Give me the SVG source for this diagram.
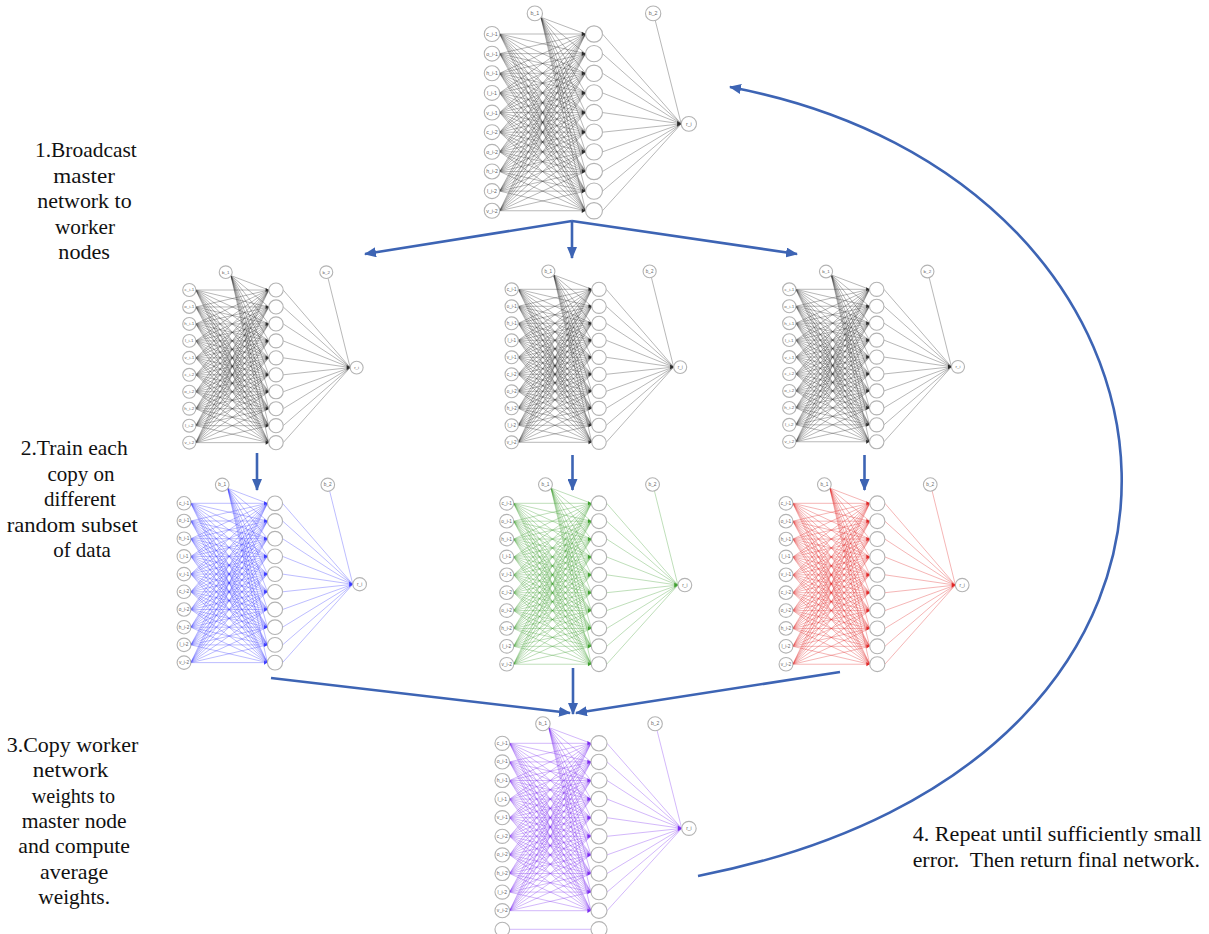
<svg xmlns="http://www.w3.org/2000/svg" xmlns:xlink="http://www.w3.org/1999/xlink" width="1209" height="934" viewBox="0 0 1209 934">
<style>
  .w path { fill: none; stroke: currentColor; stroke-opacity: .42; stroke-width: .8; vector-effect: non-scaling-stroke; }
  .hd polygon { fill: currentColor; }
  .nd circle { fill: #fff; stroke: #b3b3b3; stroke-width: 1.1; vector-effect: non-scaling-stroke; }
  .nd text { font-family: "Liberation Sans", Arial, sans-serif; font-size: 5.2px; fill: #666; text-anchor: middle; dominant-baseline: central; }
  .cap { font-family: "Liberation Serif", "Times New Roman", serif; font-size: 21px; fill: #111; }
  .mid { text-anchor: middle; }
  .link { fill: none; stroke: #3d64b4; stroke-width: 2.6; }
</style>
<defs>
  <marker id="ah" viewBox="0 0 12 10" refX="11" refY="5" markerWidth="12" markerHeight="10" markerUnits="userSpaceOnUse" orient="auto">
    <path d="M0 0L12 5L0 10z" fill="#3d64b4"/>
  </marker>

  <!-- neural network template: inputs at x=0, hidden layer at x=100, rows 20 apart -->
  <g id="wires" class="w">
    <path d="M7.5 0L91.7 0"/><path d="M7.5 0L91.7 20"/><path d="M7.5 0L91.7 40"/><path d="M7.5 0L91.7 60"/><path d="M7.5 0L91.7 80"/><path d="M7.5 0L91.7 100"/><path d="M7.5 0L91.7 120"/><path d="M7.5 0L91.7 140"/><path d="M7.5 0L91.7 160"/><path d="M7.5 0L91.7 180"/>
    <path d="M7.5 20L91.7 0"/><path d="M7.5 20L91.7 20"/><path d="M7.5 20L91.7 40"/><path d="M7.5 20L91.7 60"/><path d="M7.5 20L91.7 80"/><path d="M7.5 20L91.7 100"/><path d="M7.5 20L91.7 120"/><path d="M7.5 20L91.7 140"/><path d="M7.5 20L91.7 160"/><path d="M7.5 20L91.7 180"/>
    <path d="M7.5 40L91.7 0"/><path d="M7.5 40L91.7 20"/><path d="M7.5 40L91.7 40"/><path d="M7.5 40L91.7 60"/><path d="M7.5 40L91.7 80"/><path d="M7.5 40L91.7 100"/><path d="M7.5 40L91.7 120"/><path d="M7.5 40L91.7 140"/><path d="M7.5 40L91.7 160"/><path d="M7.5 40L91.7 180"/>
    <path d="M7.5 60L91.7 0"/><path d="M7.5 60L91.7 20"/><path d="M7.5 60L91.7 40"/><path d="M7.5 60L91.7 60"/><path d="M7.5 60L91.7 80"/><path d="M7.5 60L91.7 100"/><path d="M7.5 60L91.7 120"/><path d="M7.5 60L91.7 140"/><path d="M7.5 60L91.7 160"/><path d="M7.5 60L91.7 180"/>
    <path d="M7.5 80L91.7 0"/><path d="M7.5 80L91.7 20"/><path d="M7.5 80L91.7 40"/><path d="M7.5 80L91.7 60"/><path d="M7.5 80L91.7 80"/><path d="M7.5 80L91.7 100"/><path d="M7.5 80L91.7 120"/><path d="M7.5 80L91.7 140"/><path d="M7.5 80L91.7 160"/><path d="M7.5 80L91.7 180"/>
    <path d="M7.5 100L91.7 0"/><path d="M7.5 100L91.7 20"/><path d="M7.5 100L91.7 40"/><path d="M7.5 100L91.7 60"/><path d="M7.5 100L91.7 80"/><path d="M7.5 100L91.7 100"/><path d="M7.5 100L91.7 120"/><path d="M7.5 100L91.7 140"/><path d="M7.5 100L91.7 160"/><path d="M7.5 100L91.7 180"/>
    <path d="M7.5 120L91.7 0"/><path d="M7.5 120L91.7 20"/><path d="M7.5 120L91.7 40"/><path d="M7.5 120L91.7 60"/><path d="M7.5 120L91.7 80"/><path d="M7.5 120L91.7 100"/><path d="M7.5 120L91.7 120"/><path d="M7.5 120L91.7 140"/><path d="M7.5 120L91.7 160"/><path d="M7.5 120L91.7 180"/>
    <path d="M7.5 140L91.7 0"/><path d="M7.5 140L91.7 20"/><path d="M7.5 140L91.7 40"/><path d="M7.5 140L91.7 60"/><path d="M7.5 140L91.7 80"/><path d="M7.5 140L91.7 100"/><path d="M7.5 140L91.7 120"/><path d="M7.5 140L91.7 140"/><path d="M7.5 140L91.7 160"/><path d="M7.5 140L91.7 180"/>
    <path d="M7.5 160L91.7 0"/><path d="M7.5 160L91.7 20"/><path d="M7.5 160L91.7 40"/><path d="M7.5 160L91.7 60"/><path d="M7.5 160L91.7 80"/><path d="M7.5 160L91.7 100"/><path d="M7.5 160L91.7 120"/><path d="M7.5 160L91.7 140"/><path d="M7.5 160L91.7 160"/><path d="M7.5 160L91.7 180"/>
    <path d="M7.5 180L91.7 0"/><path d="M7.5 180L91.7 20"/><path d="M7.5 180L91.7 40"/><path d="M7.5 180L91.7 60"/><path d="M7.5 180L91.7 80"/><path d="M7.5 180L91.7 100"/><path d="M7.5 180L91.7 120"/><path d="M7.5 180L91.7 140"/><path d="M7.5 180L91.7 160"/><path d="M7.5 180L91.7 180"/>
    <!-- bias b_1 to hidden layer -->
    <path d="M48 -17L91.7 0"/><path d="M48 -17L91.7 20"/><path d="M48 -17L91.7 40"/><path d="M48 -17L91.7 60"/><path d="M48 -17L91.7 80"/><path d="M48 -17L91.7 100"/><path d="M48 -17L91.7 120"/><path d="M48 -17L91.7 140"/><path d="M48 -17L91.7 160"/><path d="M48 -17L91.7 180"/>
    <!-- hidden layer to output -->
    <path d="M108.3 0L185.5 91.5"/><path d="M108.3 20L185.5 91.5"/><path d="M108.3 40L185.5 91.5"/><path d="M108.3 60L185.5 91.5"/><path d="M108.3 80L185.5 91.5"/><path d="M108.3 100L185.5 91.5"/><path d="M108.3 120L185.5 91.5"/><path d="M108.3 140L185.5 91.5"/><path d="M108.3 160L185.5 91.5"/><path d="M108.3 180L185.5 91.5"/>
    <!-- bias b_2 to output -->
    <path d="M160 -14L185.5 91.5"/>
  </g>

  <g id="heads" class="hd">
    <polygon points="88,-2.4 91.7,0 88,2.4"/>
    <polygon points="88,17.6 91.7,20 88,22.4"/>
    <polygon points="88,37.6 91.7,40 88,42.4"/>
    <polygon points="88,57.6 91.7,60 88,62.4"/>
    <polygon points="88,77.6 91.7,80 88,82.4"/>
    <polygon points="88,97.6 91.7,100 88,102.4"/>
    <polygon points="88,117.6 91.7,120 88,122.4"/>
    <polygon points="88,137.6 91.7,140 88,142.4"/>
    <polygon points="88,157.6 91.7,160 88,162.4"/>
    <polygon points="88,177.6 91.7,180 88,182.4"/>
    <polygon points="181.5,88.5 185.5,91.5 181.5,94.5"/>
  </g>

  <g id="nodes" class="nd">
    <g><circle cx="0" cy="0" r="7.6"/><text x="0" y="0">c_i-1</text></g>
    <g><circle cx="0" cy="20" r="7.6"/><text x="0" y="20">o_i-1</text></g>
    <g><circle cx="0" cy="40" r="7.6"/><text x="0" y="40">h_i-1</text></g>
    <g><circle cx="0" cy="60" r="7.6"/><text x="0" y="60">l_i-1</text></g>
    <g><circle cx="0" cy="80" r="7.6"/><text x="0" y="80">v_i-1</text></g>
    <g><circle cx="0" cy="100" r="7.6"/><text x="0" y="100">c_i-2</text></g>
    <g><circle cx="0" cy="120" r="7.6"/><text x="0" y="120">o_i-2</text></g>
    <g><circle cx="0" cy="140" r="7.6"/><text x="0" y="140">h_i-2</text></g>
    <g><circle cx="0" cy="160" r="7.6"/><text x="0" y="160">l_i-2</text></g>
    <g><circle cx="0" cy="180" r="7.6"/><text x="0" y="180">v_i-2</text></g>
    <g><circle cx="42" cy="-21" r="7.5"/><text x="42" y="-21">b_1</text></g>
    <circle cx="100" cy="0" r="8.3"/><circle cx="100" cy="20" r="8.3"/><circle cx="100" cy="40" r="8.3"/><circle cx="100" cy="60" r="8.3"/><circle cx="100" cy="80" r="8.3"/>
    <circle cx="100" cy="100" r="8.3"/><circle cx="100" cy="120" r="8.3"/><circle cx="100" cy="140" r="8.3"/><circle cx="100" cy="160" r="8.3"/><circle cx="100" cy="180" r="8.3"/>
    <g><circle cx="158" cy="-21" r="7.5"/><text x="158" y="-21">b_2</text></g>
    <g><circle cx="193" cy="91.5" r="7.5"/><text x="193" y="91.5">r_i</text></g>
  </g>
</defs>

<rect width="1209" height="934" fill="#fff"/>

<!-- master network -->
<g id="net-master" transform="translate(492 34) scale(1.02 .982)" style="color:#2a2a2a">
  <use href="#wires"/><use href="#heads"/><use href="#nodes"/>
</g>

<!-- worker copies -->
<g id="net-worker-1" transform="translate(189.3 290) scale(.867 .848)" style="color:#2a2a2a">
  <use href="#wires"/><use href="#heads"/><use href="#nodes"/>
</g>
<g id="net-worker-2" transform="translate(511.7 289.3) scale(.873 .85)" style="color:#2a2a2a">
  <use href="#wires"/><use href="#heads"/><use href="#nodes"/>
</g>
<g id="net-worker-3" transform="translate(789.3 289.3) scale(.874 .847)" style="color:#2a2a2a">
  <use href="#wires"/><use href="#heads"/><use href="#nodes"/>
</g>

<!-- trained worker networks -->
<g id="net-trained-blue" transform="translate(184 503.3) scale(.91 .885)" style="color:#3a3aff">
  <use href="#wires"/><use href="#heads"/><use href="#nodes"/>
</g>
<g id="net-trained-green" transform="translate(506.7 503.3) scale(.923 .894)" style="color:#3f9f2f">
  <use href="#wires"/><use href="#heads"/><use href="#nodes"/>
</g>
<g id="net-trained-red" transform="translate(786 503.3) scale(.913 .894)" style="color:#e02525">
  <use href="#wires"/><use href="#heads"/><use href="#nodes"/>
</g>

<!-- averaged master network -->
<g id="net-average" transform="translate(502.3 743.3) scale(.967 .93)" style="color:#7a2af0">
  <use href="#wires"/><use href="#heads"/><use href="#nodes"/>
  <path d="M7.5 200L91.7 200" fill="none" stroke="#7a2af0" stroke-opacity=".42" stroke-width=".8" vector-effect="non-scaling-stroke"/>
  <g class="nd"><circle cx="0" cy="200" r="7.6"/><circle cx="100" cy="200" r="8.3"/></g>
</g>

<!-- flow arrows -->
<g id="connectors">
  <path class="link" d="M572 221L365 254" marker-end="url(#ah)"/>
  <path class="link" d="M572 221V258" marker-end="url(#ah)"/>
  <path class="link" d="M572 221L797 254" marker-end="url(#ah)"/>
  <path class="link" d="M257 453V490" marker-end="url(#ah)"/>
  <path class="link" d="M572.5 455V490" marker-end="url(#ah)"/>
  <path class="link" d="M864.5 455V490" marker-end="url(#ah)"/>
  <path class="link" d="M271 678L570 713" marker-end="url(#ah)"/>
  <path class="link" d="M573 668V714" marker-end="url(#ah)"/>
  <path class="link" d="M840 672L576 713" marker-end="url(#ah)"/>
  <path class="link" d="M698 876C1290 760 1225 180 730 87" marker-end="url(#ah)"/>
</g>

<!-- step captions -->
<g id="caption-1" class="cap">
  <text x="35" y="157" textLength="101.7" lengthAdjust="spacingAndGlyphs">1.Broadcast</text>
  <text x="53.3" y="182.5" textLength="61.7" lengthAdjust="spacingAndGlyphs">master</text>
  <text x="37.3" y="208" textLength="94.3" lengthAdjust="spacingAndGlyphs">network to</text>
  <text x="55" y="233.5" textLength="60" lengthAdjust="spacingAndGlyphs">worker</text>
  <text x="58.3" y="259" textLength="51.7" lengthAdjust="spacingAndGlyphs">nodes</text>
</g>
<g id="caption-2" class="cap">
  <text x="20.7" y="455" textLength="107" lengthAdjust="spacingAndGlyphs">2.Train each</text>
  <text class="mid" x="81" y="480.5">copy on</text>
  <text class="mid" x="80" y="506">different</text>
  <text x="6.7" y="531.5" textLength="131" lengthAdjust="spacingAndGlyphs">random subset</text>
  <text class="mid" x="82" y="557">of data</text>
</g>
<g id="caption-3" class="cap">
  <text x="6.7" y="752" textLength="131.7" lengthAdjust="spacingAndGlyphs">3.Copy worker</text>
  <text x="32.7" y="777" textLength="75.7" lengthAdjust="spacingAndGlyphs">network</text>
  <text x="31.7" y="802.5" textLength="83.3" lengthAdjust="spacingAndGlyphs">weights to</text>
  <text x="21.7" y="828" textLength="105" lengthAdjust="spacingAndGlyphs">master node</text>
  <text x="18.3" y="853" textLength="111.7" lengthAdjust="spacingAndGlyphs">and compute</text>
  <text x="40" y="878.5" textLength="68.3" lengthAdjust="spacingAndGlyphs">average</text>
  <text x="38.3" y="904" textLength="71.7" lengthAdjust="spacingAndGlyphs">weights.</text>
</g>
<g id="caption-4" class="cap">
  <text x="912.7" y="841" textLength="289" lengthAdjust="spacingAndGlyphs">4. Repeat until sufficiently small</text>
  <text x="912.7" y="867" textLength="287.3" lengthAdjust="spacingAndGlyphs" style="white-space:pre">error.  Then return final network.</text>
</g>
</svg>
